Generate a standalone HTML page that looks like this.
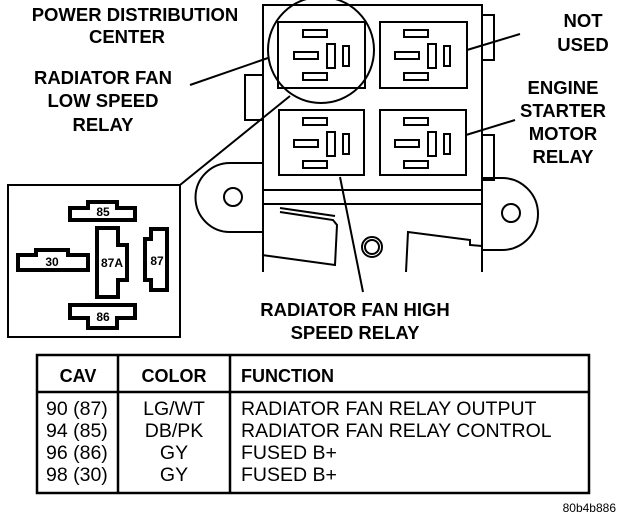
<!DOCTYPE html>
<html><head><meta charset="utf-8"><style>
html,body{margin:0;padding:0;background:#fff;}
svg{display:block;}
text{font-family:"Liberation Sans",Arial,sans-serif;fill:#000;}
.b{font-weight:bold;font-size:18.5px;}
.h{font-weight:bold;font-size:18px;}
.t{font-size:19.5px;}
</style></head><body>
<svg width="640" height="522" viewBox="0 0 640 522" xmlns="http://www.w3.org/2000/svg">
<defs>
<g id="r" fill="#fff" stroke="#000" stroke-width="2"><rect x="13" y="8" width="24" height="7"/><rect x="13" y="51" width="24" height="7"/><rect x="4" y="30" width="24" height="7"/><rect x="37" y="22" width="8" height="24"/><rect x="53" y="24" width="6" height="20"/></g>
</defs>
<g fill="none" stroke="#000" stroke-width="2">
<rect x="263" y="5" width="219" height="185"/>
<path d="M263 190 L263 272 M482 190 L482 272 M263 204 L482 204"/>
<rect x="245" y="75" width="18" height="45"/>
<rect x="482" y="15" width="12" height="45"/>
<rect x="482" y="135" width="12" height="45"/>
<path d="M262 163 L230 163 A34 34 0 0 0 230 232 L262 232"/>
<circle cx="233" cy="197" r="9"/>
<path d="M482 178 L502 178 A36 36 0 0 1 502 250 L482 250"/>
<circle cx="511" cy="213" r="9"/>
<path d="M280 212 L333 220 L337 225 L335 265 L262 255"/>
<path d="M280 208 L335 216"/>
<path d="M406 272 L408 232 L470 240 L470 245 L482 246"/>
<circle cx="372" cy="247" r="10"/><circle cx="372" cy="247" r="7"/>
<rect x="278" y="22" width="87" height="66"/>
<rect x="380" y="22" width="87" height="66"/>
<rect x="279" y="110" width="85" height="65"/>
<rect x="380" y="110" width="86" height="65"/>
<circle cx="321" cy="50" r="53"/>
<path d="M190 85 L268 58 M180 185 L290 96 M467 50 L520 34 M466 135 L515 120 M340 177 L363 292"/>
<rect x="8" y="185" width="172" height="152"/>
</g>
<use href="#r" transform="translate(290,22)"/>
<use href="#r" transform="translate(391,22)"/>
<use href="#r" transform="translate(290,110)"/>
<use href="#r" transform="translate(391,110)"/>
<g fill="#fff" stroke="#000" stroke-width="4">
<path d="M70 208 L88 208 L88 202 L117 202 L117 208 L135 208 L135 220 L70 220 Z"/>
<path d="M18 255 L36 255 L36 250 L68 250 L68 255 L88 255 L88 270 L18 270 Z"/>
<path d="M97 228 L118 228 L118 245 L127 245 L127 280 L118 280 L118 297 L97 297 Z"/>
<path d="M151 229 L167 229 L167 290 L151 290 L151 280 L145 280 L145 239 L151 239 Z"/>
<path d="M70 305 L135 305 L135 318 L117 318 L117 328 L88 328 L88 318 L70 318 Z"/>
</g>
<g font-weight="bold" font-size="12" text-anchor="middle">
<text x="103" y="216">85</text><text x="52" y="266">30</text><text x="112" y="267">87A</text><text x="157" y="265">87</text><text x="103" y="321">86</text>
</g>
<g class="b" text-anchor="middle">
<text x="135" y="21">POWER DISTRIBUTION</text><text x="127" y="43">CENTER</text>
<text x="103" y="84">RADIATOR FAN</text><text x="103" y="107">LOW SPEED</text><text x="103" y="131">RELAY</text>
<text x="583" y="27">NOT</text><text x="583" y="51">USED</text>
<text x="563" y="94">ENGINE</text><text x="563" y="117">STARTER</text><text x="563" y="140">MOTOR</text><text x="563" y="163">RELAY</text>
<text x="355" y="316">RADIATOR FAN HIGH</text><text x="355" y="339">SPEED RELAY</text>
</g>
<g fill="none" stroke="#000" stroke-width="2.5">
<rect x="37" y="355" width="552" height="138"/>
<path d="M37 392 L589 392 M118 355 L118 493 M230 355 L230 493"/>
</g>
<g class="h"><text x="78" y="382" text-anchor="middle">CAV</text><text x="174" y="382" text-anchor="middle">COLOR</text><text x="241" y="382">FUNCTION</text></g>
<g class="t">
<text x="46" y="415">90 (87)</text><text x="46" y="437">94 (85)</text><text x="46" y="459">96 (86)</text><text x="46" y="481">98 (30)</text>
<g text-anchor="middle"><text x="174" y="415">LG/WT</text><text x="174" y="437">DB/PK</text><text x="174" y="459">GY</text><text x="174" y="481">GY</text></g>
<text x="241" y="415">RADIATOR FAN RELAY OUTPUT</text><text x="241" y="437">RADIATOR FAN RELAY CONTROL</text><text x="241" y="459">FUSED B+</text><text x="241" y="481">FUSED B+</text>
</g>
<text x="616" y="512" font-size="12" text-anchor="end">80b4b886</text>
</svg>
</body></html>
